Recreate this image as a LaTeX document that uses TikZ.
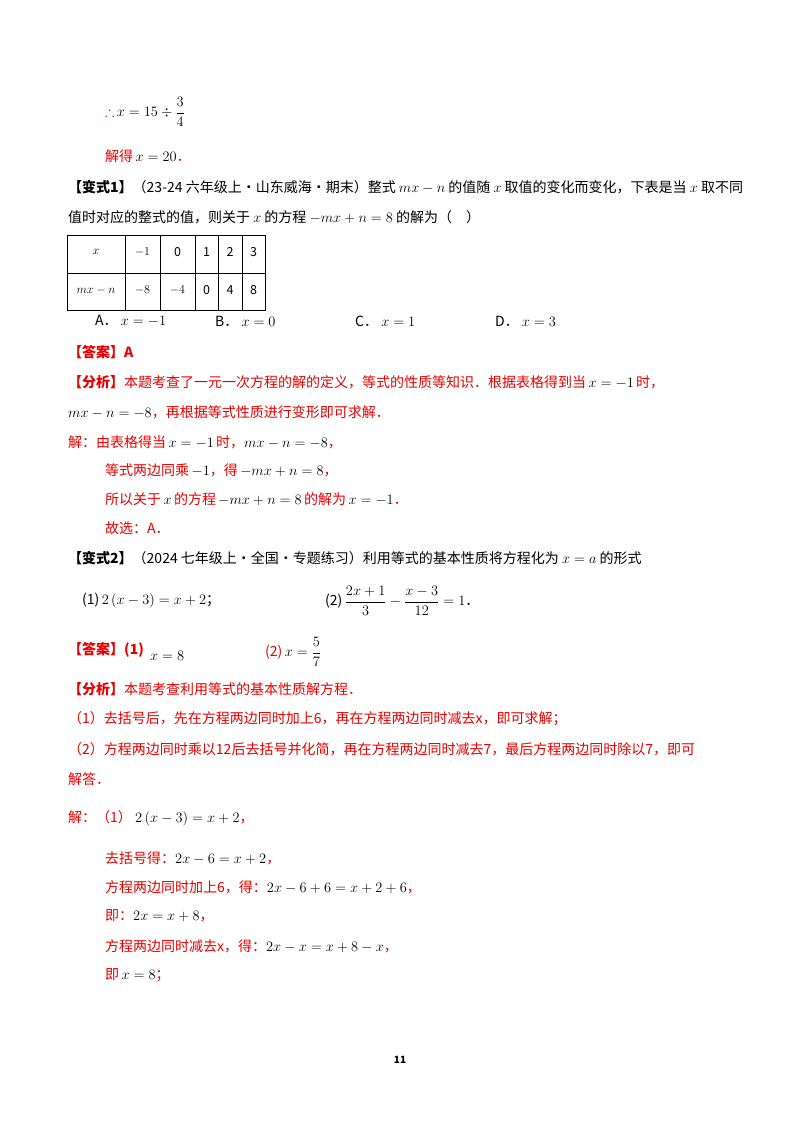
\documentclass[tikz,border=0pt]{standalone}
\usepackage{amsmath,amssymb}
\usepackage{fontspec}
\setmainfont{Noto Sans CJK SC}
\begin{document}
\begin{tikzpicture}[x=1pt,y=-1pt,
  txt/.style={anchor=west,inner sep=0pt,font=\fontsize{14}{16}\selectfont},
  cell/.style={inner sep=0pt,font=\fontsize{12.5}{14}\selectfont}]
\definecolor{rd}{RGB}{230,0,0}
\useasboundingbox (0,0) rectangle (800,1132);
\node[txt] (l1) at (105,112) {{\color{rd}$\boldsymbol{\therefore}$}\,$x=15\div\dfrac{3}{4}$};
\node[txt] (l2) at (105,156) {\color{rd}解得\color{black}$\,x=20$\color{rd}．};
\node[txt] (l3) at (68,187) {\textbf{【变式1】}（23-24 六年级上·山东威海·期末）整式 $mx-n$ 的值随 $x$ 取值的变化而变化，下表是当 $x$ 取不同};
\node[txt] (l4) at (68,217) {值时对应的整式的值，则关于 $x$ 的方程 $-mx+n=8$ 的解为（　）};
% table
\draw (67,235) rectangle (265,310);
\draw (67,273) -- (265,273);
\foreach \xx in {125,160,195,218,242} \draw (\xx,235) -- (\xx,310);
\node[cell] (c1) at (96,252) {$x$};
\node[cell] (c2) at (142.5,252) {$-1$};
\node[cell] (c3) at (177.5,252) {0};
\node[cell] (c4) at (206.5,252) {1};
\node[cell] (c5) at (230,252) {2};
\node[cell] (c6) at (253.5,252) {3};
\node[cell] (d1) at (96,290) {$mx-n$};
\node[cell] (d2) at (142.5,290) {$-8$};
\node[cell] (d3) at (177.5,290) {$-4$};
\node[cell] (d4) at (206.5,290) {0};
\node[cell] (d5) at (230,290) {4};
\node[cell] (d6) at (253.5,290) {8};
\node[txt] (oa) at (95,321) {A．\ $x=-1$};
\node[txt] (ob) at (215,321) {B．\ $x=0$};
\node[txt] (oc) at (355,321) {C．\ $x=1$};
\node[txt] (od) at (495,321) {D．\ $x=3$};
\node[txt,text=rd] (a1) at (68,352) {\textbf{【答案】A}};
\node[txt,text=rd] (a2) at (68,382) {\textbf{【分析】}本题考查了一元一次方程的解的定义，等式的性质等知识．根据表格得到当\color{black}$\,x=-1\,$\color{rd}时，};
\node[txt,text=rd] (a3) at (68,412) {\color{black}$mx-n=-8$\color{rd}，再根据等式性质进行变形即可求解．};
\node[txt,text=rd] (a4) at (68,442) {解：由表格得当\color{black}$\,x=-1\,$\color{rd}时，\color{black}$mx-n=-8$\color{rd}，};
\node[txt,text=rd] (a5) at (105,470) {等式两边同乘\color{black}$\,-1$\color{rd}，得\color{black}$\,-mx+n=8$\color{rd}，};
\node[txt,text=rd] (a6) at (105,499) {所以关于\color{black}$\,x\,$\color{rd}的方程\color{black}$\,-mx+n=8\,$\color{rd}的解为\color{black}$\,x=-1$\color{rd}．};
\node[txt,text=rd] (a7) at (105,528) {故选：A．};
\node[txt] (b1) at (68,558) {\textbf{【变式2】}（2024 七年级上·全国·专题练习）利用等式的基本性质将方程化为 $x=a$ 的形式};
\node[txt] (b2) at (82,601) {(1)\,$2\left(x-3\right)=x+2$；};
\node[txt] (b3) at (325,601) {(2)\,$\dfrac{2x+1}{3}-\dfrac{x-3}{12}=1$．};
\node[txt,text=rd] (b4) at (68,650) {\textbf{【答案】(1)}};
\node[txt] (b5) at (150,656) {$x=8$};
\node[txt] (b6) at (265,652) {\color{rd}(2)\color{black}\,$x=\dfrac{5}{7}$};
\node[txt,text=rd] (b7) at (68,689) {\textbf{【分析】}本题考查利用等式的基本性质解方程．};
\node[txt,text=rd] (b8) at (68,719) {（1）去括号后，先在方程两边同时加上6，再在方程两边同时减去\textit{x}，即可求解；};
\node[txt,text=rd] (b9) at (68,749) {（2）方程两边同时乘以12后去括号并化简，再在方程两边同时减去7，最后方程两边同时除以7，即可};
\node[txt,text=rd] (b10) at (68,779) {解答．};
\node[txt,text=rd] (s1) at (68,818) {解：（1）\ \color{black}$2\left(x-3\right)=x+2$\color{rd}，};
\node[txt,text=rd] (s2) at (105,858) {去括号得：\color{black}$2x-6=x+2$\color{rd}，};
\node[txt,text=rd] (s3) at (105,887) {方程两边同时加上6，得：\color{black}$2x-6+6=x+2+6$\color{rd}，};
\node[txt,text=rd] (s4) at (105,916) {即：\color{black}$2x=x+8$\color{rd}，};
\node[txt,text=rd] (s5) at (105,946) {方程两边同时减去\textit{x}，得：\color{black}$2x-x=x+8-x$\color{rd}，};
\node[txt,text=rd] (s6) at (105,975) {即\color{black}$\,x=8$\color{rd}；};
\node[inner sep=0pt,font=\fontsize{10}{12}\selectfont] (pg) at (400,1060) {\textbf{11}};
\end{tikzpicture}
\end{document}
